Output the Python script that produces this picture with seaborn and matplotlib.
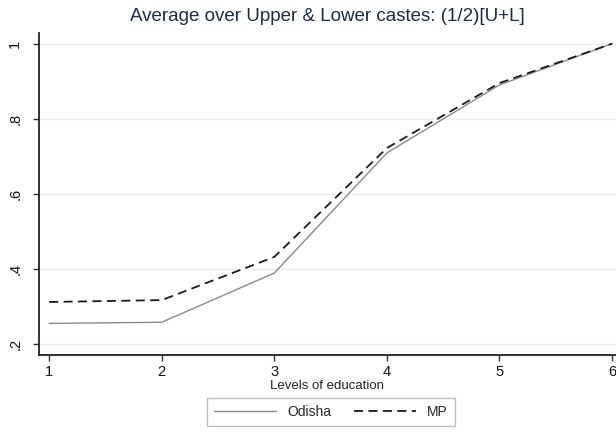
import matplotlib
matplotlib.use("Agg")
import matplotlib.pyplot as plt
import seaborn as sns
import pandas as pd
from matplotlib.lines import Line2D

# Data
levels = [1, 2, 3, 4, 5, 6]
odisha = [0.255, 0.258, 0.389, 0.709, 0.890, 1.0]
mp = [0.312, 0.317, 0.432, 0.722, 0.895, 1.0]
series_names = ["Odisha", "MP"]
y_ticks = [0.2, 0.4, 0.6, 0.8, 1.0]
y_tick_labels = [".2", ".4", ".6", ".8", "1"]
title = "Average over Upper & Lower castes: (1/2)[U+L]"
x_label = "Levels of education"

df = pd.DataFrame({
    "level": levels * 2,
    "value": odisha + mp,
    "state": [series_names[0]] * len(levels) + [series_names[1]] * len(levels),
})

sns.set_style("white")
plt.rcParams["font.family"] = ["Liberation Sans", "DejaVu Sans"]

fig = plt.figure(figsize=(6.16, 4.42), dpi=100)
ax = fig.add_axes([0.0633, 0.197, 0.9367, 0.728])

sns.lineplot(
    data=df, x="level", y="value", hue="state", style="state",
    palette={"Odisha": "#8a8a8a", "MP": "#1a1a1a"},
    dashes={"Odisha": "", "MP": (5, 3)},
    ax=ax, legend=False,
)
for line, lw in zip(ax.get_lines(), [1.0, 1.3]):
    line.set_linewidth(lw)

ax.set_xlim(0.91, 6.035)
ax.set_ylim(0.171, 1.028)
ax.set_xticks(levels)
ax.set_xticklabels([str(v) for v in levels], fontsize=10.5)
ax.set_yticks(y_ticks)
ax.set_yticklabels(y_tick_labels, fontsize=10.5, rotation=90, va="center")
ax.yaxis.grid(True, color="#e6eef2", linewidth=1.0)
ax.xaxis.grid(False)
ax.set_axisbelow(True)

for s in ["top", "right"]:
    ax.spines[s].set_visible(False)
for s in ["left", "bottom"]:
    ax.spines[s].set_color("#222222")
    ax.spines[s].set_linewidth(1.3)
ax.tick_params(axis="both", direction="out", length=4, width=1, color="#333333",
               bottom=True, left=True, labelcolor="#111111")
ax.tick_params(axis="x", pad=3)
ax.tick_params(axis="y", pad=8)

ax.set_xlabel(x_label, fontsize=9.5, labelpad=1, color="#222222")
ax.set_ylabel("")
ax.set_title(title, fontsize=13.5, color="#1e2b45", pad=9)

handles = [
    Line2D([], [], color="#8a8a8a", linewidth=1.0),
    Line2D([], [], color="#1a1a1a", linewidth=1.3, linestyle=(0, (5, 3))),
]
leg = fig.legend(handles, series_names, loc="center", bbox_to_anchor=(331 / 616, 1 - 412 / 442),
                 ncol=2, frameon=True, fontsize=10, handlelength=4.5, columnspacing=1.6,
                 handletextpad=0.8, fancybox=False, borderpad=0.5)
leg.get_frame().set_edgecolor("#b0b0b0")
leg.get_frame().set_linewidth(1.0)

fig.savefig("out.png", dpi=100)
